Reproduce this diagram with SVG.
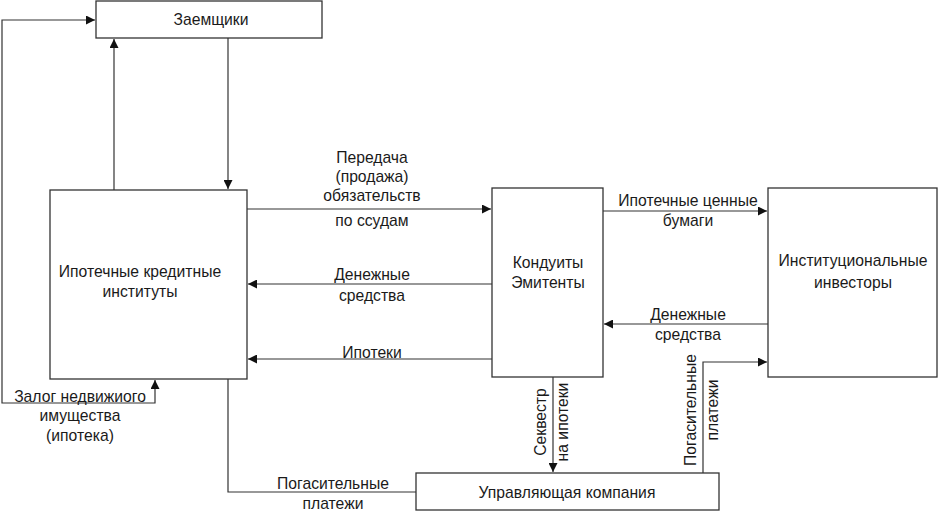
<svg xmlns="http://www.w3.org/2000/svg" width="939" height="512" viewBox="0 0 939 512">
<style>
.box{fill:#fff;stroke:#333;stroke-width:1.3}
.ln{fill:none;stroke:#333;stroke-width:1.2}
.t{font-family:"Liberation Sans",Arial,sans-serif;font-size:15.7px;fill:#1a1a1a;text-anchor:middle}
</style>
<defs>
<marker id="ah" viewBox="0 0 10 10" refX="10" refY="5" markerWidth="9" markerHeight="9" markerUnits="userSpaceOnUse" orient="auto-start-reverse">
<path d="M0,0 L10,5 L0,10 Z" fill="#111"/>
</marker>
</defs>
<g id="connectors">
<path class="ln" d="M155,380 V403 H2 V20 H95" marker-start="url(#ah)" marker-end="url(#ah)"/>
<path class="ln" d="M114,190 V39" marker-end="url(#ah)"/>
<path class="ln" d="M228,38 V189" marker-end="url(#ah)"/>
<path class="ln" d="M247,209 H491" marker-end="url(#ah)"/>
<path class="ln" d="M492,284 H248" marker-end="url(#ah)"/>
<path class="ln" d="M492,359 H248" marker-end="url(#ah)"/>
<path class="ln" d="M603,211 H767" marker-end="url(#ah)"/>
<path class="ln" d="M768,324 H604" marker-end="url(#ah)"/>
<path class="ln" d="M703,473 V362 H767" marker-end="url(#ah)"/>
<path class="ln" d="M553,377 V472" marker-end="url(#ah)"/>
<path class="ln" d="M228,379 V492 H416"/>
<text class="t" x="372" y="163">Передача</text>
<text class="t" x="372" y="182">(продажа)</text>
<text class="t" x="372" y="201">обязательств</text>
<text class="t" x="372" y="226">по ссудам</text>
<text class="t" x="372" y="280">Денежные</text>
<text class="t" x="372" y="301">средства</text>
<text class="t" x="372" y="358">Ипотеки</text>
<text class="t" x="688" y="206">Ипотечные ценные</text>
<text class="t" x="688" y="226">бумаги</text>
<text class="t" x="688" y="320">Денежные</text>
<text class="t" x="688" y="340">средства</text>
<text class="t" x="80" y="402">Залог недвижиого</text>
<text class="t" x="80" y="421">имущества</text>
<text class="t" x="80" y="441">(ипотека)</text>
<text class="t" x="333" y="489">Погасительные</text>
<text class="t" x="333" y="509">платежи</text>
<text class="t" transform="translate(546,422) rotate(-90)">Секвестр</text>
<text class="t" transform="translate(568,422) rotate(-90)">на ипотеки</text>
<text class="t" transform="translate(696,410) rotate(-90)">Погасительные</text>
<text class="t" transform="translate(718,410) rotate(-90)">платежи</text>
</g>
<g id="zaemshiki">
<rect class="box" x="96" y="1" width="226" height="37"/>
<text class="t" x="211" y="25">Заемщики</text>
</g>
<g id="ipotechnye-instituty">
<rect class="box" x="50" y="190" width="197" height="189"/>
<text class="t" x="140" y="277">Ипотечные кредитные</text>
<text class="t" x="140" y="297">институты</text>
</g>
<g id="konduity">
<rect class="box" x="492" y="188" width="111" height="189"/>
<text class="t" x="548" y="268">Кондуиты</text>
<text class="t" x="548" y="288">Эмитенты</text>
</g>
<g id="investory">
<rect class="box" x="768" y="188" width="169" height="189"/>
<text class="t" x="853" y="266">Институциональные</text>
<text class="t" x="853" y="288">инвесторы</text>
</g>
<g id="upravlyayushaya">
<rect class="box" x="416" y="473" width="303" height="37"/>
<text class="t" x="567" y="498">Управляющая компания</text>
</g>
</svg>
